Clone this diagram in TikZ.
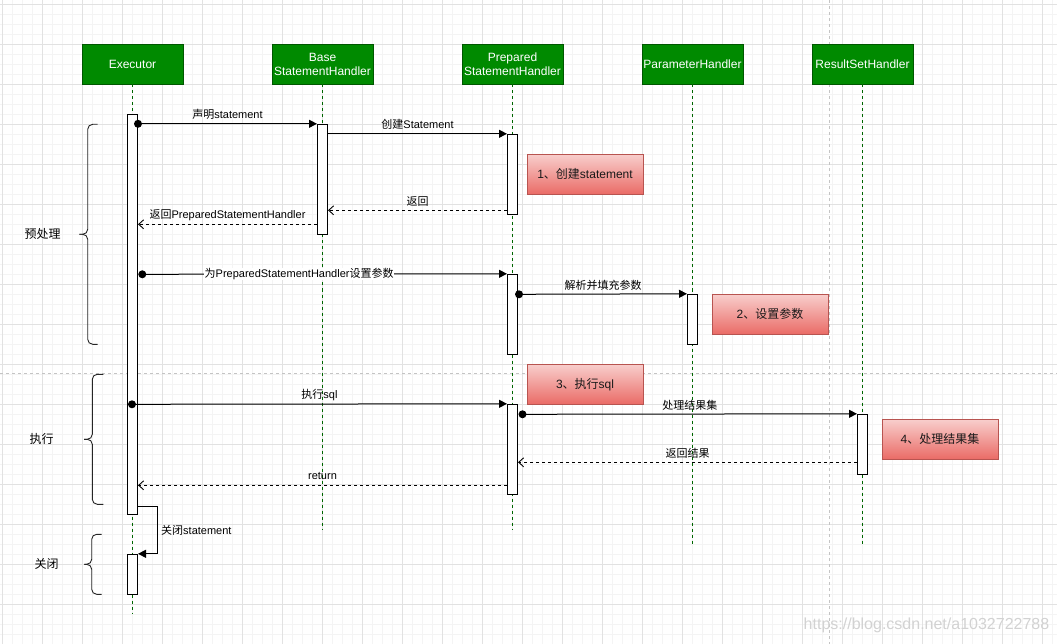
\documentclass[tikz,border=0pt]{standalone}
\usepackage{fontspec}
\setmainfont{Liberation Sans}
\newfontfamily\cjk{Noto Sans CJK SC}
\usetikzlibrary{arrows.meta,calc}
\newcommand{\zh}[1]{{\cjk #1}}
\definecolor{hdrfill}{HTML}{008A00}
\definecolor{hdrdraw}{HTML}{005700}
\definecolor{lifecol}{HTML}{006600}
\definecolor{notetop}{HTML}{F8CECC}
\definecolor{notebot}{HTML}{EA6B66}
\definecolor{notedraw}{HTML}{B85450}
\definecolor{gridminor}{HTML}{F4F4F4}
\definecolor{gridmajor}{HTML}{E2E2E2}
\definecolor{sepcol}{HTML}{C4C4C4}
\definecolor{wmcol}{HTML}{D2D2D2}
\begin{document}
\begin{tikzpicture}[x=1pt,y=-1pt,
  minorline/.style={gridminor, line width=0.6pt},
  majorline/.style={gridmajor, line width=0.8pt},
  sepline/.style={sepcol, line width=0.8pt, dash pattern=on 3pt off 3pt},
  hdr/.style={draw=hdrdraw, fill=hdrfill, text=white, minimum width=100.4pt, minimum height=40pt, inner sep=0pt, align=center, font=\fontsize{12}{14}\selectfont},
  life/.style={lifecol, line width=0.9pt, dash pattern=on 3pt off 3pt},
  act/.style={draw=black, fill=white, minimum width=10pt, inner sep=0pt, line width=1pt},
  note/.style={draw=notedraw, top color=notetop, bottom color=notebot, minimum width=115.4pt, minimum height=40pt, inner sep=0pt, font=\fontsize{12}{14}\selectfont, text=black!90},
  sync/.style={line width=1pt, -{Triangle[length=8pt,width=8pt]}},
  ret/.style={line width=0.9pt, dash pattern=on 3pt off 3pt, -{Straight Barb[length=5pt,width=9pt,line width=0.9pt]}},
  lbl/.style={font=\fontsize{11}{13}\selectfont, inner sep=0.5pt, text=black},
  lblA/.style={lbl, midway, yshift=9pt},
  dot/.style={fill=black},
  brace/.style={line width=0.9pt, black!85, rounded corners=5pt},
  side/.style={font=\fontsize{12}{14}\selectfont, inner sep=0pt},
  wm/.style={font=\fontsize{16}{18}\selectfont, text=wmcol, inner sep=0pt}
]
\useasboundingbox (0,0) rectangle (1057,644);
\fill[white] (0,0) rectangle (1057,644);
% grid
\foreach \i in {0,...,105} \draw[minorline] ({2.5+10*\i},0) -- ({2.5+10*\i},644);
\foreach \j in {0,...,63} \draw[minorline] (0,{4.3+10*\j}) -- (1057,{4.3+10*\j});
\foreach \i in {0,...,26} \draw[majorline] ({2.5+40*\i},0) -- ({2.5+40*\i},644);
\foreach \j in {0,...,15} \draw[majorline] (0,{4.3+40*\j}) -- (1057,{4.3+40*\j});
% separators
\draw[sepline] (829.5,0) -- (829.5,644);
\draw[sepline] (0,373.5) -- (1057,373.5);

% headers
\node[hdr] (ex) at (132.5,64.3) {Executor};
\node[hdr] (ba) at (322.5,64.3) {Base\\StatementHandler};
\node[hdr] (pr) at (512.5,64.3) {Prepared\\StatementHandler};
\node[hdr] (pa) at (692.5,64.3) {ParameterHandler};
\node[hdr] (rs) at (862.5,64.3) {ResultSetHandler};

% lifelines
\coordinate (exE) at (132.5,614);
\coordinate (baE) at (322.5,530);
\coordinate (prE) at (512.5,530);
\coordinate (paE) at (692.5,544);
\coordinate (rsE) at (862.5,544);
\draw[life] (ex.south) -- (exE);
\draw[life] (ba.south) -- (baE);
\draw[life] (pr.south) -- (prE);
\draw[life] (pa.south) -- (paE);
\draw[life] (rs.south) -- (rsE);

% activations
\node[act, minimum height=400pt] (ex1) at (132.5,314.3) {};
\node[act, minimum height=40pt] (ex2) at (132.5,574.3) {};
\node[act, minimum height=110pt] (ba1) at (322.5,179.3) {};
\node[act, minimum height=80pt] (pr1) at (512.5,174.3) {};
\node[act, minimum height=80pt] (pr2) at (512.5,314.3) {};
\node[act, minimum height=50pt] (pa1) at (692.5,319.3) {};
\node[act, minimum height=90pt] (pr3) at (512.5,449.3) {};
\node[act, minimum height=60pt] (rs1) at (862.5,444.3) {};

% notes
\node[note] (n1) at (585,174.3) {1\zh{、创建}statement};
\node[note] (n2) at (770,314.3) {2\zh{、设置参数}};
\node[note] (n3) at (585,384.3) {3\zh{、执行}sql};
\node[note] (n4) at (940,439.3) {4\zh{、处理结果集}};

% message levels
\coordinate (y3) at (0,210.3);
\coordinate (y4) at (0,224.3);
\coordinate (d5) at (142.3,274.3);
\coordinate (d6) at (519,294.3);
\coordinate (d7) at (132,404.3);
\coordinate (d8) at (522.5,414.3);
\coordinate (y9) at (0,462.3);
\coordinate (y10) at (0,485.3);
\coordinate (y11) at (0,506.7);
\coordinate (s11) at (157.3,0);

% messages
\draw[sync] (ex1.east |- ba1.north) -- node[lblA] {\zh{声明}statement} (ba1.north west);
\fill[dot] (ex1.east |- ba1.north) circle[radius=4pt];
\draw[sync] (ba1.east |- pr1.north) -- node[lblA] {\zh{创建}Statement} (pr1.north west);
\draw[ret] (pr1.west |- y3) -- node[lblA] {\zh{返回}} (ba1.east |- y3);
\draw[ret] (ba1.west |- y4) -- node[lblA] {\zh{返回}PreparedStatementHandler} (ex1.east |- y4);
\draw[sync] (d5) -- node[lbl, pos=0.43, fill=white] {\zh{为}PreparedStatementHandler\zh{设置参数}} (pr2.north west);
\fill[dot] (d5) circle[radius=4pt];
\draw[sync] (d6) -- node[lblA] {\zh{解析并填充参数}} (pa1.north west);
\fill[dot] (d6) circle[radius=4pt];
\draw[sync] (d7) -- node[lblA] {\zh{执行}sql} (pr3.north west);
\fill[dot] (d7) circle[radius=4pt];
\draw[sync] (d8) -- node[lblA] {\zh{处理结果集}} (rs1.north west);
\fill[dot] (d8) circle[radius=4pt];
\draw[ret] (rs1.west |- y9) -- node[lblA] {\zh{返回结果}} (pr3.east |- y9);
\draw[ret] (pr3.west |- y10) -- node[lblA] {return} (ex1.east |- y10);
\draw[sync] (ex1.east |- y11) -| (s11 |- ex2.north) -- (ex2.north east);
\node[lbl, anchor=west] (l11) at (160.5,530.3) {\zh{关闭}statement};

% braces
\draw[brace] (97.7,124.3) -- (87.7,124.3) -- (87.7,234.3) -- (79.3,234.3);
\draw[brace] (97.7,344.3) -- (87.7,344.3) -- (87.7,234.3) -- (79.3,234.3);
\node[side] (b1) at (42.5,234.3) {\zh{预处理}};
\draw[brace] (103.3,374.3) -- (92.3,374.3) -- (92.3,439.3) -- (84,439.3);
\draw[brace] (103.3,504.3) -- (92.3,504.3) -- (92.3,439.3) -- (84,439.3);
\node[side] (b2) at (41.5,439.3) {\zh{执行}};
\draw[brace] (101.7,534.3) -- (91.7,534.3) -- (91.7,564.3) -- (84.3,564.3);
\draw[brace] (101.7,594.3) -- (91.7,594.3) -- (91.7,564.3) -- (84.3,564.3);
\node[side] (b3) at (46.7,564.3) {\zh{关闭}};

% watermark
\node[wm] (wmk) at (926.5,625.5) {https://blog.csdn.net/a1032722788};
\end{tikzpicture}
\end{document}
